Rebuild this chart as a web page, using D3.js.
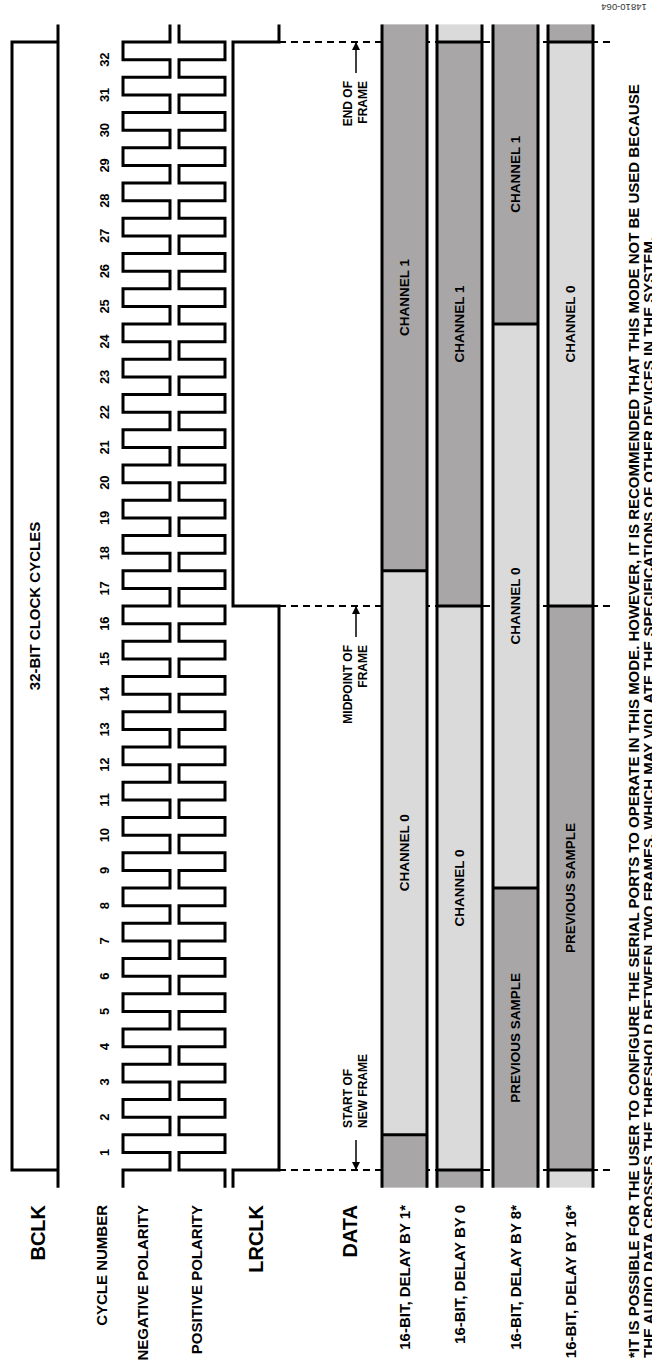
<!DOCTYPE html>
<html>
<head>
<meta charset="utf-8">
<title>Serial Port Timing - Delay Modes</title>
<script src="https://cdnjs.cloudflare.com/ajax/libs/d3/7.8.5/d3.min.js"></script>
<style>
  body { margin:0; background:#fff; }
  svg { display:block; }
  text { font-family: Arial, "Liberation Sans", Helvetica, sans-serif; font-weight:bold; fill:#000; }
</style>
</head>
<body>
<div id="chart"></div>
<script>
// ---- data ----
var cycleNumbers = [1,2,3,4,5,6,7,8,9,10,11,12,13,14,15,16,17,18,19,20,21,22,23,24,25,26,27,28,29,30,31,32];
var signalNames = ["BCLK","CYCLE NUMBER","NEGATIVE POLARITY","POSITIVE POLARITY","LRCLK","DATA"];
var lrclkEdges = [0,16,32];          // cycle where LRCLK toggles
var frameMarks = [0,16,32];          // start, midpoint, end of frame
var frameText = [["START OF","NEW FRAME"],["MIDPOINT OF","FRAME"],["END OF","FRAME"]];
var rowNames = ["16-BIT, DELAY BY 1*","16-BIT, DELAY BY 0","16-BIT, DELAY BY 8*","16-BIT, DELAY BY 16*"];
var rowBreaks = [[1,17],[0,16,32],[8,24],[0,16,32]];
var rowShades = [["dark","light","dark"],["dark","light","dark","light"],["dark","light","dark"],["light","dark","light","dark"]];
var rowLabels = [["","CHANNEL 0","CHANNEL 1"],["","CHANNEL 0","CHANNEL 1",""],["PREVIOUS SAMPLE","CHANNEL 0","CHANNEL 1"],["","PREVIOUS SAMPLE","CHANNEL 0",""]];
var footnote = ["*IT IS POSSIBLE FOR THE USER TO CONFIGURE THE SERIAL PORTS TO OPERATE IN THIS MODE. HOWEVER, IT IS RECOMMENDED THAT THIS MODE NOT BE USED BECAUSE",
                "THE AUDIO DATA CROSSES THE THRESHOLD BETWEEN TWO FRAMES, WHICH MAY VIOLATE THE SPECIFICATIONS OF OTHER DEVICES IN THE SYSTEM."];
var figureId = "14810-064";

// ---- layout ----
var W = 652, H = 1362;
var shade = {dark:"#a8a6a7", light:"#dadada"};

var svg = d3.select("#chart").append("svg")
  .attr("width", W).attr("height", H);

// whole drawing is laid out landscape, then turned a quarter left
var g = svg.append("g").attr("transform","translate(0,"+H+") rotate(-90)");

var x = d3.scaleLinear().domain([0,32]).range([192,1320]);
var xa = x(-0.5), xb = x(32.5);

var laneBclk = [12,58], laneCycle = 104, laneNeg = [123,170], lanePos = [179,225], laneLr = [233,279];
var rowTop = [382,437,493,548], rowH = 45;
var labelX = 157;
var lw = 3;

// dashed frame marks (under the data rows)
g.selectAll(".mark").data(frameMarks).enter().append("line")
  .attr("x1", function(d){return x(d);}).attr("x2", function(d){return x(d);})
  .attr("y1", laneLr[1]).attr("y2", 612)
  .attr("stroke","#000").attr("stroke-width",2).attr("stroke-dasharray","7,5");

// BCLK bracket
g.append("path")
  .attr("d","M"+x(0)+","+laneBclk[1]+"V"+laneBclk[0]+"H"+x(32)+"V"+laneBclk[1])
  .attr("fill","none").attr("stroke","#000").attr("stroke-width",lw);
g.append("line").attr("x1",xa).attr("x2",xb).attr("y1",laneBclk[1]).attr("y2",laneBclk[1])
  .attr("stroke","#000").attr("stroke-width",lw);
g.append("text").attr("x",x(16)).attr("y",(laneBclk[0]+laneBclk[1])/2).attr("dy","0.35em")
  .attr("text-anchor","middle").style("font-size","15px").text("32-BIT CLOCK CYCLES");

// cycle numbers
g.selectAll(".cyc").data(cycleNumbers).enter().append("text")
  .attr("x", function(d){return x(d-0.5);}).attr("y", laneCycle).attr("dy","0.35em")
  .attr("text-anchor","middle").style("font-size","13px").text(function(d){return d;});

// clock waveforms
function clockPath(hi, lo, invert){
  var a = invert ? lo : hi, b = invert ? hi : lo;
  var p = "M"+xa+","+a+"H"+x(0)+"V"+b;
  cycleNumbers.forEach(function(c){
    p += "H"+x(c-0.5)+"V"+a+"H"+x(c)+"V"+b;
  });
  return p+"H"+xb;
}
g.append("path").attr("d",clockPath(laneNeg[0],laneNeg[1],false))
  .attr("fill","none").attr("stroke","#000").attr("stroke-width",lw);
g.append("path").attr("d",clockPath(lanePos[0],lanePos[1],true))
  .attr("fill","none").attr("stroke","#000").attr("stroke-width",lw);

// LRCLK
var lrp = "M"+xa+","+laneLr[0], lvl = 0;
lrclkEdges.forEach(function(e){
  lvl = 1-lvl;
  lrp += "H"+x(e)+"V"+laneLr[lvl];
});
lrp += "H"+xb;
g.append("path").attr("d",lrp).attr("fill","none").attr("stroke","#000").attr("stroke-width",lw);

// frame arrows + notes
var defs = svg.append("defs");
defs.append("marker").attr("id","ah").attr("viewBox","0 0 10 10").attr("refX",10).attr("refY",5)
  .attr("markerWidth",10).attr("markerHeight",8).attr("markerUnits","userSpaceOnUse").attr("orient","auto")
  .append("path").attr("d","M0,0L10,5L0,10Z").attr("fill","#000");

frameMarks.forEach(function(m,i){
  var tip = x(m), tail = i===0 ? tip+30 : tip-31;
  g.append("line").attr("x1",tail).attr("x2",tip).attr("y1",356).attr("y2",356)
    .attr("stroke","#000").attr("stroke-width",1.5).attr("marker-end","url(#ah)");
  var tx = i===0 ? tail+12 : tail-8;
  frameText[i].forEach(function(t,j){
    g.append("text").attr("x",tx).attr("y",j===0?348:363).attr("dy","0.35em")
      .attr("text-anchor", i===0 ? "start" : "end").style("font-size","12px").text(t);
  });
});

// data rows
rowNames.forEach(function(name,i){
  var y0 = rowTop[i];
  var edges = [-0.5].concat(rowBreaks[i]).concat([32.5]);
  for (var k=0;k<edges.length-1;k++){
    g.append("rect").attr("x",x(edges[k])).attr("width",x(edges[k+1])-x(edges[k]))
      .attr("y",y0).attr("height",rowH).attr("fill",shade[rowShades[i][k]]);
    if (rowLabels[i][k]) {
      g.append("text").attr("x",(x(edges[k])+x(edges[k+1]))/2).attr("y",y0+rowH/2).attr("dy","0.35em")
        .attr("text-anchor","middle").style("font-size","13.5px").text(rowLabels[i][k]);
    }
  }
  g.selectAll(".brk"+i).data(rowBreaks[i]).enter().append("line")
    .attr("x1",function(d){return x(d);}).attr("x2",function(d){return x(d);})
    .attr("y1",y0).attr("y2",y0+rowH).attr("stroke","#000").attr("stroke-width",lw);
  [y0,y0+rowH].forEach(function(yy){
    g.append("line").attr("x1",xa).attr("x2",xb).attr("y1",yy).attr("y2",yy)
      .attr("stroke","#000").attr("stroke-width",lw);
  });
  g.append("text").attr("x",labelX).attr("y",y0+rowH/2).attr("dy","0.35em")
    .attr("text-anchor","end").style("font-size","15px").text(name);
});

// signal names
var nameY = [38,102,143,197,256,350];
signalNames.forEach(function(n,i){
  var big = (n==="BCLK"||n==="LRCLK"||n==="DATA");
  g.append("text").attr("x",labelX).attr("y",nameY[i]).attr("dy","0.35em")
    .attr("text-anchor","end").style("font-size", big ? "20px" : "15px").text(n);
});

// footnote
footnote.forEach(function(t,i){
  g.append("text").attr("x",4).attr("y",i===0?639:654)
    .style("font-size","15px").text(t);
});

// figure id (upside down in the top corner)
svg.append("text").attr("transform","translate(624,7) rotate(180)").attr("dy","0.35em")
  .attr("text-anchor","middle").style("font-size","9.5px").style("font-weight","normal")
  .style("fill","#333").text(figureId);
</script>
</body>
</html>
